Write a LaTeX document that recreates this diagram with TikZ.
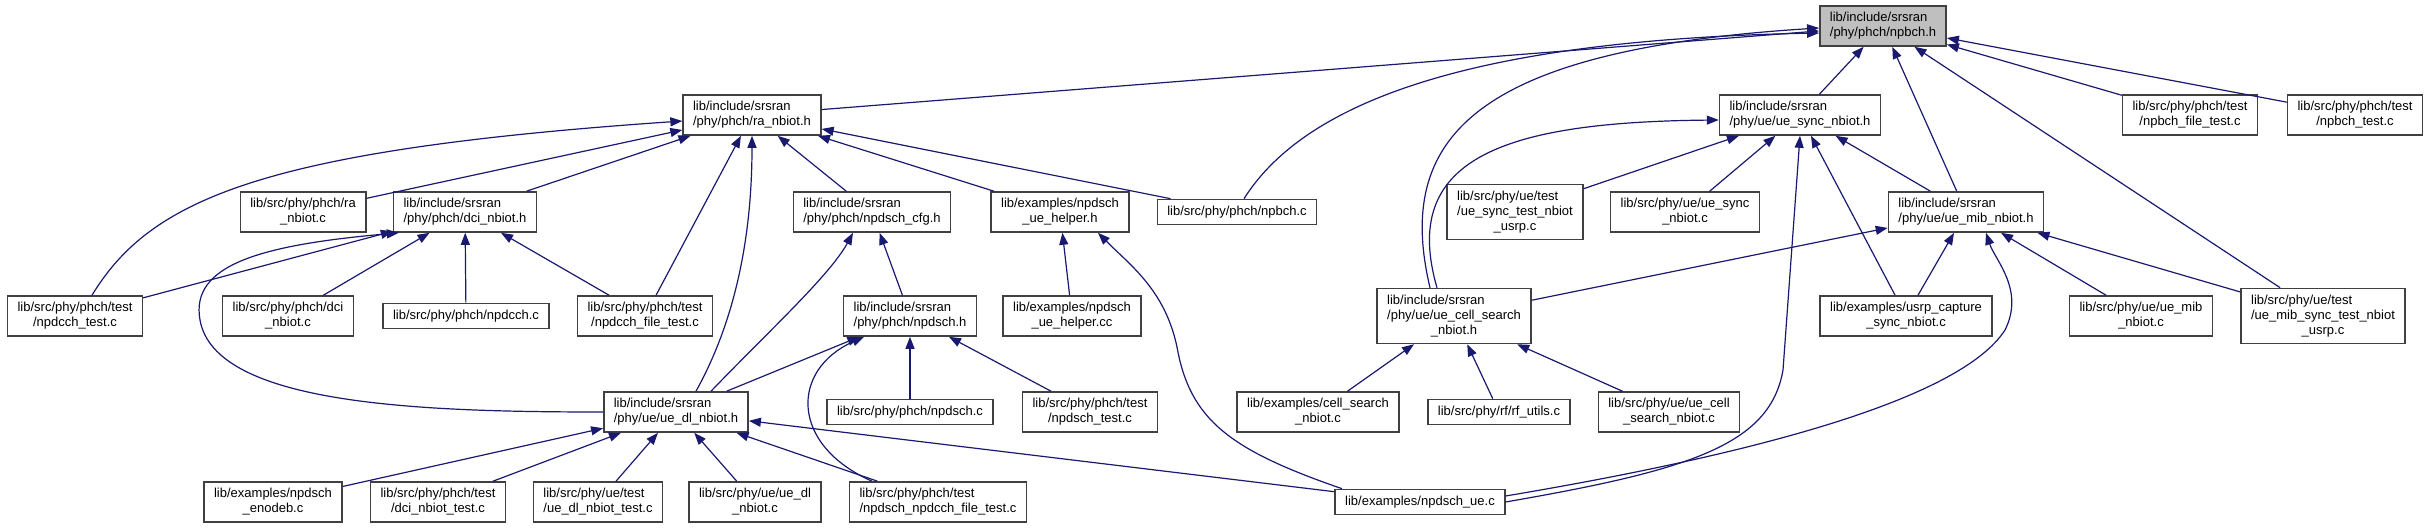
\documentclass[tikz,border=0pt]{standalone}
\usepackage{fontspec}
\setmainfont{Liberation Sans}
\usetikzlibrary{arrows.meta}
\definecolor{edgeblue}{RGB}{25,25,112}
\definecolor{nodegray}{RGB}{191,191,191}
\tikzset{
  file/.style={draw=black!75, line width=1.5pt, fill=white, align=left,
    inner xsep=10pt, inner ysep=6.5pt, font=\fontsize{13}{15}\selectfont},
  dep/.style={draw=edgeblue, line width=1.2pt, -{Triangle[length=12pt,width=9pt]}},
}
\begin{document}
\begin{tikzpicture}[x=1pt, y=-1pt]
\useasboundingbox (0,0) rectangle (2431,528);

% Header under inspection
\node (npbch) [file, fill=nodegray] at (1883,26) {lib/include/srsran\\\hfil/phy/phch/npbch.h};

% Direct includers
\node (ranbiot) [file] at (752,115) {lib/include/srsran\\\hfil/phy/phch/ra\_nbiot.h};
\node (uesync) [file] at (1800,115) {lib/include/srsran\\\hfil/phy/ue/ue\_sync\_nbiot.h};
\node (npbchfiletest) [file] at (2190,115) {lib/src/phy/phch/test\\\hfil/npbch\_file\_test.c};
\node (npbchtest) [file] at (2355,115) {lib/src/phy/phch/test\\\hfil/npbch\_test.c};

% Third row
\node (ranbiotc) [file] at (303,212) {lib/src/phy/phch/ra\\\hfil\_nbiot.c};
\node (dcinbioth) [file] at (465,212) {lib/include/srsran\\\hfil/phy/phch/dci\_nbiot.h};
\node (npdschcfg) [file] at (872,212) {lib/include/srsran\\\hfil/phy/phch/npdsch\_cfg.h};
\node (uehelperh) [file] at (1060,212) {lib/examples/npdsch\\\hfil\_ue\_helper.h};
\node (npbchc) [file] at (1237,212) {lib/src/phy/phch/npbch.c};
\node (uesynctest) [file] at (1515,212) {lib/src/phy/ue/test\\/ue\_sync\_test\_nbiot\\\hfil\_usrp.c};
\node (uesyncc) [file] at (1685,212) {lib/src/phy/ue/ue\_sync\\\hfil\_nbiot.c};
\node (uemibh) [file] at (1966,212) {lib/include/srsran\\\hfil/phy/ue/ue\_mib\_nbiot.h};

% Fourth row
\node (npdcchtest) [file] at (75,316) {lib/src/phy/phch/test\\\hfil/npdcch\_test.c};
\node (dcinbiotc) [file] at (288,316) {lib/src/phy/phch/dci\\\hfil\_nbiot.c};
\node (npdcchc) [file] at (466,316) {lib/src/phy/phch/npdcch.c};
\node (npdcchfiletest) [file] at (645,316) {lib/src/phy/phch/test\\\hfil/npdcch\_file\_test.c};
\node (npdschh) [file] at (910,316) {lib/include/srsran\\\hfil/phy/phch/npdsch.h};
\node (uehelpercc) [file] at (1072,316) {lib/examples/npdsch\\\hfil\_ue\_helper.cc};
\node (uecellsearchh) [file] at (1454,316) {lib/include/srsran\\/phy/ue/ue\_cell\_search\\\hfil\_nbiot.h};
\node (usrpcapture) [file] at (1906,316) {lib/examples/usrp\_capture\\\hfil\_sync\_nbiot.c};
\node (uemibc) [file] at (2141,316) {lib/src/phy/ue/ue\_mib\\\hfil\_nbiot.c};
\node (uemibsynctest) [file] at (2323,316) {lib/src/phy/ue/test\\/ue\_mib\_sync\_test\_nbiot\\\hfil\_usrp.c};

% Fifth row
\node (uedlh) [file] at (676,412) {lib/include/srsran\\\hfil/phy/ue/ue\_dl\_nbiot.h};
\node (npdschc) [file] at (910,412) {lib/src/phy/phch/npdsch.c};
\node (npdschtest) [file] at (1090,412) {lib/src/phy/phch/test\\\hfil/npdsch\_test.c};
\node (cellsearchc) [file] at (1318,412) {lib/examples/cell\_search\\\hfil\_nbiot.c};
\node (rfutils) [file] at (1499,412) {lib/src/phy/rf/rf\_utils.c};
\node (uecellsearchc) [file] at (1669,412) {lib/src/phy/ue/ue\_cell\\\hfil\_search\_nbiot.c};

% Bottom row
\node (npdschenodeb) [file] at (273,502) {lib/examples/npdsch\\\hfil\_enodeb.c};
\node (dcinbiottest) [file] at (438,502) {lib/src/phy/phch/test\\\hfil/dci\_nbiot\_test.c};
\node (uedltest) [file] at (598,502) {lib/src/phy/ue/test\\\hfil/ue\_dl\_nbiot\_test.c};
\node (uedlc) [file] at (755,502) {lib/src/phy/ue/ue\_dl\\\hfil\_nbiot.c};
\node (npdschnpdcch) [file] at (938,502) {lib/src/phy/phch/test\\\hfil/npdsch\_npdcch\_file\_test.c};
\node (npdschue) [file] at (1420,502) {lib/examples/npdsch\_ue.c};

% Straight includes
\foreach \src/\dst in {ranbiot/npbch, uesync/npbch, uemibh/npbch, uemibsynctest/npbch,
    npbchfiletest/npbch, npbchtest/npbch,
    ranbiotc/ranbiot, dcinbioth/ranbiot, npdcchfiletest/ranbiot, npdschcfg/ranbiot,
    uehelperh/ranbiot, npbchc/ranbiot,
    npdcchtest/dcinbioth, dcinbiotc/dcinbioth, npdcchc/dcinbioth, npdcchfiletest/dcinbioth,
    npdschh/npdschcfg, uehelpercc/uehelperh,
    uedlh/npdschh, npdschc/npdschh, npdschtest/npdschh,
    npdschenodeb/uedlh, dcinbiottest/uedlh, uedltest/uedlh, uedlc/uedlh,
    npdschnpdcch/uedlh, npdschue/uedlh,
    uesynctest/uesync, uesyncc/uesync, usrpcapture/uesync, uemibh/uesync,
    uecellsearchh/uemibh, usrpcapture/uemibh, uemibc/uemibh, uemibsynctest/uemibh,
    cellsearchc/uecellsearchh, rfutils/uecellsearchh, uecellsearchc/uecellsearchh} {
    \draw[dep] (\src) -- (\dst);
  }

% Curved includes
\draw[dep] ([xshift=17pt]npdcchtest.north) .. controls (150,200) and (260,150) .. ([yshift=-6pt]ranbiot.west);
\draw[dep] (uedlh.west) .. controls (420,412) and (215,405) .. (200,320)
  .. controls (190,265) and (260,245) .. ([xshift=6pt]dcinbioth.south west);
\draw[dep] ([xshift=-66pt]npdschnpdcch.north) .. controls (790,445) and (790,370) .. ([xshift=-46pt]npdschh.south);
\draw[dep] ([xshift=35pt]uedlh.north) .. controls (770,330) and (830,275) .. ([xshift=-19pt]npdschcfg.south);
\draw[dep] ([xshift=20pt]uedlh.north) .. controls (730,330) and (752,250) .. (ranbiot.south);
\draw[dep] ([xshift=7pt]npbchc.north) .. controls (1300,110) and (1450,40) .. ([yshift=-7pt]npbch.west);
\draw[dep] ([xshift=-24pt]uecellsearchh.north) .. controls (1395,140) and (1470,50) .. ([yshift=-2pt]npbch.west);
\draw[dep] ([xshift=-17pt]uecellsearchh.north) .. controls (1400,160) and (1500,122) .. ([yshift=-5pt]uesync.west);
\draw[dep] ([xshift=-78pt]npdschue.north) .. controls (1230,450) and (1190,420) .. (1177,347)
  .. controls (1165,290) and (1130,265) .. ([xshift=38pt]uehelperh.south);
\draw[dep] (npdschue.east) .. controls (1690,470) and (1770,445) .. (1783,370) -- (uesync.south);
\draw[dep] ([yshift=6pt]npdschue.east) .. controls (1750,455) and (1960,400) .. (2005,330)
  .. controls (2025,290) and (1995,260) .. ([xshift=20pt]uemibh.south);
\end{tikzpicture}
\end{document}
